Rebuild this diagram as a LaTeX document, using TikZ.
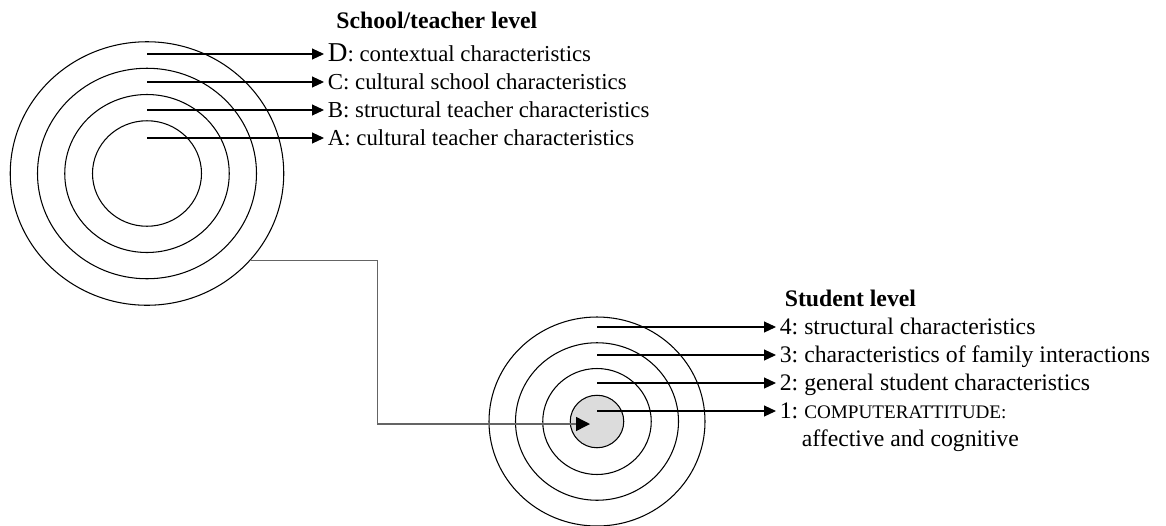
\documentclass[tikz,border=0pt]{standalone}
\usepackage{fontspec}
\setmainfont{Liberation Serif}
\usepackage{tikz}
\usetikzlibrary{positioning, shapes.geometric, arrows.meta}
\frenchspacing
\definecolor{coreGray}{RGB}{220, 220, 220}
\definecolor{linkGray}{RGB}{100, 100, 100}
\tikzset{
  ring/.style={ellipse, draw=black, line width=0.6pt, inner sep=0pt},
  core/.style={ellipse, draw=black, fill=coreGray, line width=0.6pt, inner sep=0pt},
  lab/.style={anchor=west, inner sep=2pt, text height=9pt, text depth=1pt,
              font=\fontsize{13.5}{16}\selectfont},
  labT/.style={lab, font=\fontsize{13}{16}\selectfont},
  head/.style={anchor=west, inner sep=2pt,
               font=\fontsize{13.5}{16}\selectfont\bfseries},
}

\begin{document}
\begin{tikzpicture}[
    pointer/.style={-{Triangle[length=0.24cm, width=0.22cm]}, line width=0.6pt},
    link/.style={-{Triangle[length=0.28cm, width=0.28cm, color=black]},
                 draw=linkGray, line width=0.8pt},
  ]
    \useasboundingbox (0,0) rectangle (23.32,-10.5);

    % School/teacher rings
    \node[ring, minimum width=5.47cm, minimum height=5.27cm] (t4) at (2.94,-3.47) {};
    \node[ring, minimum width=4.38cm, minimum height=4.21cm] (t3) at (2.94,-3.47) {};
    \node[ring, minimum width=3.29cm, minimum height=3.16cm] (t2) at (2.94,-3.47) {};
    \node[ring, minimum width=2.18cm, minimum height=2.11cm] (t1) at (2.94,-3.47) {};

    \node[head] (school) at (6.65,-0.40) {School/teacher level};
    \node[labT] (labD) at (6.48,-1.08)
         {{\fontsize{15.5}{16}\selectfont D}: contextual characteristics};
    \node[labT] (labC) at (6.48,-1.64) {C: cultural school characteristics};
    \node[labT] (labB) at (6.48,-2.20) {B: structural teacher characteristics};
    \node[labT] (labA) at (6.48,-2.76) {A: cultural teacher characteristics};

    \draw[pointer] (labD.west -| t4.center) -- (labD.west);
    \draw[pointer] (labC.west -| t4.center) -- (labC.west);
    \draw[pointer] (labB.west -| t4.center) -- (labB.west);
    \draw[pointer] (labA.west -| t4.center) -- (labA.west);

    % Student rings
    \node[ring, minimum width=4.32cm, minimum height=4.18cm] (s4) at (11.94,-8.43) {};
    \node[ring, minimum width=3.26cm, minimum height=3.15cm] (s3) at (11.94,-8.43) {};
    \node[ring, minimum width=2.17cm, minimum height=2.12cm] (s2) at (11.94,-8.43) {};
    \node[core, minimum width=1.07cm, minimum height=1.05cm] (s1) at (11.94,-8.43) {};

    \node[head] (student) at (15.62,-5.96) {Student level};
    \node[lab] (lab4) at (15.52,-6.54) {4: structural characteristics};
    \node[lab] (lab3) at (15.52,-7.10) {3: characteristics of family interactions};
    \node[lab] (lab2) at (15.52,-7.66) {2: general student characteristics};
    \node[lab] (lab1) at (15.52,-8.22)
         {1: {\fontsize{10.9}{12}\selectfont COMPUTERATTITUDE:}};
    \node[lab, below=0.06cm of lab1.south west, anchor=north west, xshift=0.44cm] (lab1b)
         {affective and cognitive};

    \draw[pointer] (lab4.west -| s4.center) -- (lab4.west);
    \draw[pointer] (lab3.west -| s4.center) -- (lab3.west);
    \draw[pointer] (lab2.west -| s4.center) -- (lab2.west);
    \draw[pointer] (lab1.west -| s4.center) -- (lab1.west);

    % Link between the levels
    \coordinate (bend)  at (7.55,-8.48);
    \coordinate (entry) at (11.80,-8.48);
    \draw[link] (t4.-40) -| (bend) -- (entry);
\end{tikzpicture}
\end{document}
